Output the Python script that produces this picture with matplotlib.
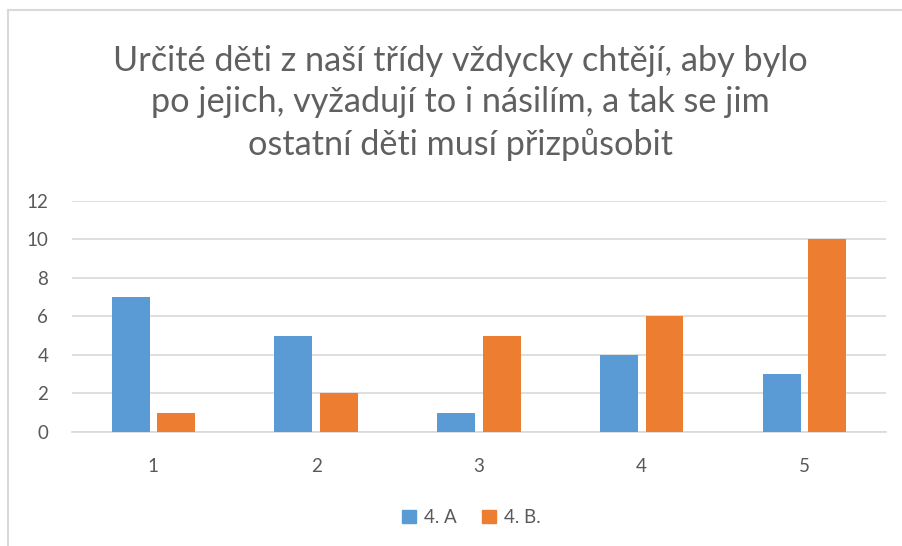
import matplotlib
matplotlib.use("Agg")
import matplotlib.pyplot as plt
import numpy as np
from matplotlib.lines import Line2D
from matplotlib.patches import Patch

categories = ["1", "2", "3", "4", "5"]
class_a = [7, 5, 1, 4, 3]
class_b = [1, 2, 5, 6, 10]
series_names = ["4. A", "4. B."]
title = ("Určité děti z naší třídy vždycky chtějí, aby bylo\n"
         "po jejich, vyžadují to i násilím, a tak se jim\n"
         "ostatní děti musí přizpůsobit")

BLUE = "#5B9BD5"
ORANGE = "#ED7D31"
GRID = "#D9D9D9"
TEXT = "#595959"

plt.rcParams["font.family"] = ["Lato", "DejaVu Sans"]

fig = plt.figure(figsize=(9.03, 5.46), dpi=100)
ax = fig.add_axes([0.0797, 0.2088, 0.9013, 0.4232])

x = np.arange(len(categories))
width = 0.233
off = 0.14
ax.bar(x - off, class_a, width, color=BLUE, zorder=3)
ax.bar(x + off, class_b, width, color=ORANGE, zorder=3)

ax.set_xlim(-0.5, len(categories) - 0.5)
ax.set_ylim(0, 12)
ax.set_yticks(range(0, 13, 2))
ax.set_xticks(x, categories)
ax.yaxis.grid(True, color=GRID, linewidth=1.2, zorder=0)
for side in ["top", "right", "left"]:
    ax.spines[side].set_visible(False)
ax.spines["bottom"].set_color(GRID)
ax.spines["bottom"].set_linewidth(1.2)
ax.tick_params(length=0, labelsize=13.5, colors=TEXT)
ax.tick_params(axis="y", pad=17)
ax.tick_params(axis="x", pad=19)

fig.text(0.51, 0.812, title, ha="center", va="center", fontsize=24.7,
         color="#606060", linespacing=1.36)

handles = [Patch(color=BLUE), Patch(color=ORANGE)]
fig.legend(handles, series_names, loc="center", bbox_to_anchor=(0.522, 0.052),
           ncol=2, frameon=False, fontsize=13.5, labelcolor=TEXT,
           handlelength=0.75, handleheight=0.75, handletextpad=0.45, columnspacing=1.3)

# chart frame (left and top edges visible in the crop)
fig.add_artist(Line2D([8 / 903, 8 / 903], [0, 1 - 10 / 546], color=GRID, linewidth=1.5))
fig.add_artist(Line2D([8 / 903, 1], [1 - 10 / 546, 1 - 10 / 546], color=GRID, linewidth=1.5))

fig.savefig("out.png", dpi=100)
